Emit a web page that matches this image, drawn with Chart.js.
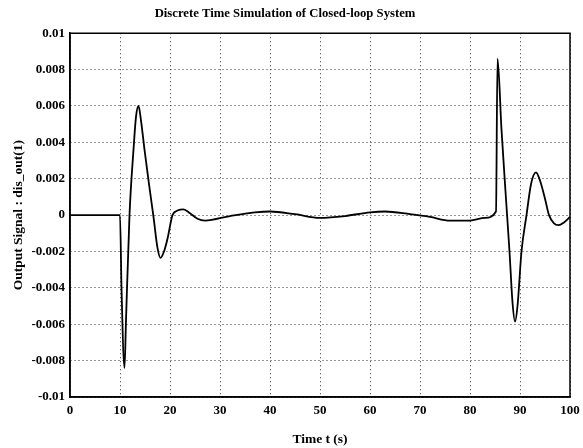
<!DOCTYPE html>
<html>
<head>
<meta charset="utf-8">
<script src="https://cdn.jsdelivr.net/npm/chart.js@4"></script>
<style>
  html, body { margin: 0; padding: 0; background: #fff; }
  canvas { display: block; }
</style>
</head>
<body>
<canvas id="simChart" width="583" height="448"></canvas>
<script>
// Simulation data (time in s, output signal)
const times = [0, 10, 10.3, 10.9, 11.2, 11.9, 12.7, 13.2, 13.7, 14.2, 14.9, 15.8, 16.7, 17.5, 18.1, 18.8, 19.5, 20.5, 21.5, 22.7, 24, 25.5, 27, 32, 37, 40, 45, 50, 55, 60, 63, 68, 72, 76, 80, 83, 85.2, 85.5, 86.3, 87.1, 87.9, 88.5, 89, 89.5, 90.3, 91.3, 92.2, 93.2, 94, 95, 95.8, 96.8, 97.7, 98.8, 100];
const signal = [0, 0, -0.004, -0.0084, -0.0058, 0, 0.0036, 0.0054, 0.006, 0.0052, 0.0036, 0.0017, -0.0001, -0.0018, -0.00235, -0.002, -0.0013, 0, 0.00025, 0.00032, 0.0001, -0.0002, -0.0003, -0.00005, 0.00015, 0.0002, 0.00005, -0.00015, -0.00005, 0.00015, 0.0002, 0.00005, -0.0001, -0.0003, -0.0003, -0.00015, 0.0002, 0.0086, 0.0047, 0.0013, -0.002, -0.0048, -0.00585, -0.005, -0.002, 0, 0.0017, 0.00235, 0.0019, 0.0009, 0, -0.00045, -0.00055, -0.0004, -0.0001];

// Tick labels
const xTicks = [0, 10, 20, 30, 40, 50, 60, 70, 80, 90, 100];
const yTicks = [-0.01, -0.008, -0.006, -0.004, -0.002, 0, 0.002, 0.004, 0.006, 0.008, 0.01];

const serif = 'Liberation Serif, Times New Roman, serif';

// Draw the closed box round the plot area
const frameBox = {
    id: 'frameBox',
    afterDraw(chart) {
        const { ctx, chartArea } = chart;
        ctx.save();
        ctx.setLineDash([]);
        ctx.strokeStyle = '#000';
        ctx.lineWidth = 1.5;
        ctx.strokeRect(chartArea.left, chartArea.top, chartArea.right - chartArea.left, chartArea.bottom - chartArea.top);
        ctx.restore();
    }
};

const ctx = document.getElementById('simChart').getContext('2d');
new Chart(ctx, {
    type: 'line',
    data: {
        datasets: [{
            label: 'dis_out(1)',
            data: times.map((t, i) => ({ x: t, y: signal[i] })),
            borderColor: '#000',
            borderWidth: 1.8,
            pointRadius: 0,
            fill: false,
            cubicInterpolationMode: 'monotone'
        }]
    },
    options: {
        responsive: false,
        animation: false,
        layout: { padding: { left: 0, right: 13, top: 0, bottom: 0 } },
        plugins: {
            legend: { display: false },
            tooltip: { enabled: false },
            title: {
                display: true,
                text: 'Discrete Time Simulation of Closed-loop System',
                color: '#000',
                font: { family: serif, size: 12.7, weight: 'bold' },
                padding: { top: 6, bottom: 12 }
            }
        },
        scales: {
            x: {
                type: 'linear',
                min: 0,
                max: 100,
                afterBuildTicks: scale => { scale.ticks = xTicks.map(v => ({ value: v })); },
                afterFit: scale => {
                    scale.height = 51;
                    scale.paddingRight = 0;
                    scale.paddingLeft = 0;
                },
                ticks: {
                    color: '#000',
                    font: { family: serif, size: 13, weight: 'bold' },
                    padding: 6,
                    maxRotation: 0
                },
                grid: {
                    color: '#333',
                    lineWidth: 1,
                    drawTicks: false
                },
                border: { display: true, color: '#000', width: 1.5, dash: [1, 3] },
                title: {
                    display: true,
                    text: 'Time t (s)',
                    color: '#000',
                    font: { family: serif, size: 13.5, weight: 'bold' },
                    padding: { top: 8, bottom: 0 }
                }
            },
            y: {
                type: 'linear',
                min: -0.01,
                max: 0.01,
                afterBuildTicks: scale => { scale.ticks = yTicks.map(v => ({ value: v })); },
                afterFit: scale => { scale.width = 70; },
                ticks: {
                    color: '#000',
                    font: { family: serif, size: 13, weight: 'bold' },
                    padding: 5,
                    callback: v => String(v)
                },
                grid: {
                    color: '#333',
                    lineWidth: 1,
                    drawTicks: false
                },
                border: { display: true, color: '#000', width: 1.5, dash: [1, 3] },
                title: {
                    display: true,
                    text: 'Output Signal : dis_out(1)',
                    color: '#000',
                    font: { family: serif, size: 13.5, weight: 'bold' },
                    padding: { top: 10, bottom: 2 }
                }
            }
        }
    },
    plugins: [frameBox]
});
</script>
</body>
</html>
